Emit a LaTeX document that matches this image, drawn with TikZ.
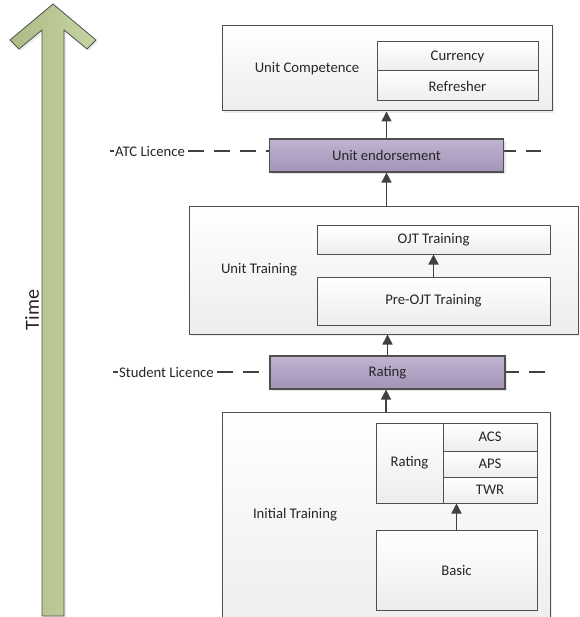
\documentclass[tikz,border=0pt]{standalone}
\usepackage{fontspec}
\setmainfont{Carlito}
\usepackage{tikz}
\usetikzlibrary{positioning}
\usetikzlibrary{shadows}
\usetikzlibrary{arrows.meta}

\definecolor{framegray}{HTML}{505050}
\definecolor{stagepurple}{HTML}{B1A0C6}
\definecolor{timegreen}{HTML}{BCCC91}
\definecolor{textgray}{HTML}{262626}

\tikzset{
  stage/.style={draw=framegray, line width=1pt, top color=white, bottom color=black!7,
    drop shadow={shadow xshift=2pt, shadow yshift=-2pt, opacity=0.15}, inner sep=0pt},
  cell/.style={draw=framegray, line width=1pt, top color=white, bottom color=black!7, inner sep=0pt},
  gate/.style={draw=framegray, line width=1.2pt, top color=stagepurple!80!white, bottom color=stagepurple!92!black,
    drop shadow={shadow xshift=2pt, shadow yshift=-2pt, opacity=0.2}, inner sep=0pt},
  caption/.style={text=textgray, font=\fontsize{14.7}{17}\selectfont, inner sep=1pt},
  step arrow/.style={-{Triangle[width=10pt,length=10pt]}, line width=1.6pt, draw=black!75},
  licence line/.style={dash pattern=on 16pt off 10pt, line width=2pt, draw=black!75},
}

\begin{document}
\begin{tikzpicture}[x=1pt, y=-1pt]
    \useasboundingbox (0,0) rectangle (579,617);
    \clip (0,0) rectangle (579,617);

    % Time arrow
    \draw[draw=framegray, line width=0.8pt, left color=timegreen!92!black, right color=timegreen!85!white,
          drop shadow={shadow xshift=2pt, shadow yshift=-2pt, opacity=0.15}]
        (53,4) -- (96,40) -- (87,49) -- (64,30) -- (64,616) -- (42,616) -- (42,30) -- (19,49) -- (10,40) -- cycle;
    \node[caption, font=\fontsize{20}{24}\selectfont, rotate=90] (time) at (32,310) {Time};

    % Licence lines
    \draw[licence line] (110,151) -- (541,151);
    \draw[licence line] (113,372) -- (545,372);
    \node[caption, fill=white, anchor=west] (atc) at (114,151) {ATC Licence};
    \node[caption, fill=white, anchor=west] (student) at (118,372) {Student Licence};

    % Unit competence
    \node[stage, minimum width=330pt, minimum height=85pt] (competence) at (387,68.5) {};
    \node[caption] (competence-label) at (307,69) {Unit Competence};
    \node[cell, minimum width=161pt, minimum height=29pt, caption] (currency) at (457.5,56.5) {Currency};
    \node[cell, minimum width=161pt, minimum height=30pt, caption] (refresher) at (457.5,86) {Refresher};

    \node[gate, minimum width=234pt, minimum height=33pt, caption] (endorsement) at (386.5,155.5) {Unit endorsement};

    % Unit training
    \node[stage, minimum width=389pt, minimum height=127pt] (unit) at (383.5,270.5) {};
    \node[caption] (unit-label) at (259,270) {Unit Training};
    \node[cell, minimum width=233pt, minimum height=28pt, caption] (ojt) at (433.5,240) {OJT Training};
    \node[cell, minimum width=233pt, minimum height=48pt, caption] (preojt) at (433.5,301) {Pre-OJT Training};

    \node[gate, minimum width=235pt, minimum height=33pt, caption] (rating) at (387.5,372.5) {Rating};

    % Initial training
    \node[stage, minimum width=328pt, minimum height=220pt] (initial) at (386,522) {};
    \node[caption] (initial-label) at (295,515) {Initial Training};
    \node[cell, minimum width=67pt, minimum height=80pt, caption] (rating-sub) at (409.5,463) {Rating};
    \node[cell, minimum width=94pt, minimum height=28pt, caption] (acs) at (490,437) {ACS};
    \node[cell, minimum width=94pt, minimum height=26pt, caption] (aps) at (490,464) {APS};
    \node[cell, minimum width=94pt, minimum height=26pt, caption] (twr) at (490,490) {TWR};
    \node[cell, minimum width=161pt, minimum height=80pt, caption] (basic) at (456.5,570) {Basic};

    % Arrows
    \draw[step arrow] (basic.north) -- (basic.north |- twr.south);
    \draw[step arrow] (initial.north) -- (initial.north |- rating.south);
    \draw[step arrow] (rating.north) -- (rating.north |- unit.south);
    \draw[step arrow] (preojt.north) -- (ojt.south);
    \draw[step arrow] (unit.north -| endorsement.south) -- (endorsement.south);
    \draw[step arrow] (endorsement.north) -- (endorsement.north |- competence.south);
\end{tikzpicture}
\end{document}
